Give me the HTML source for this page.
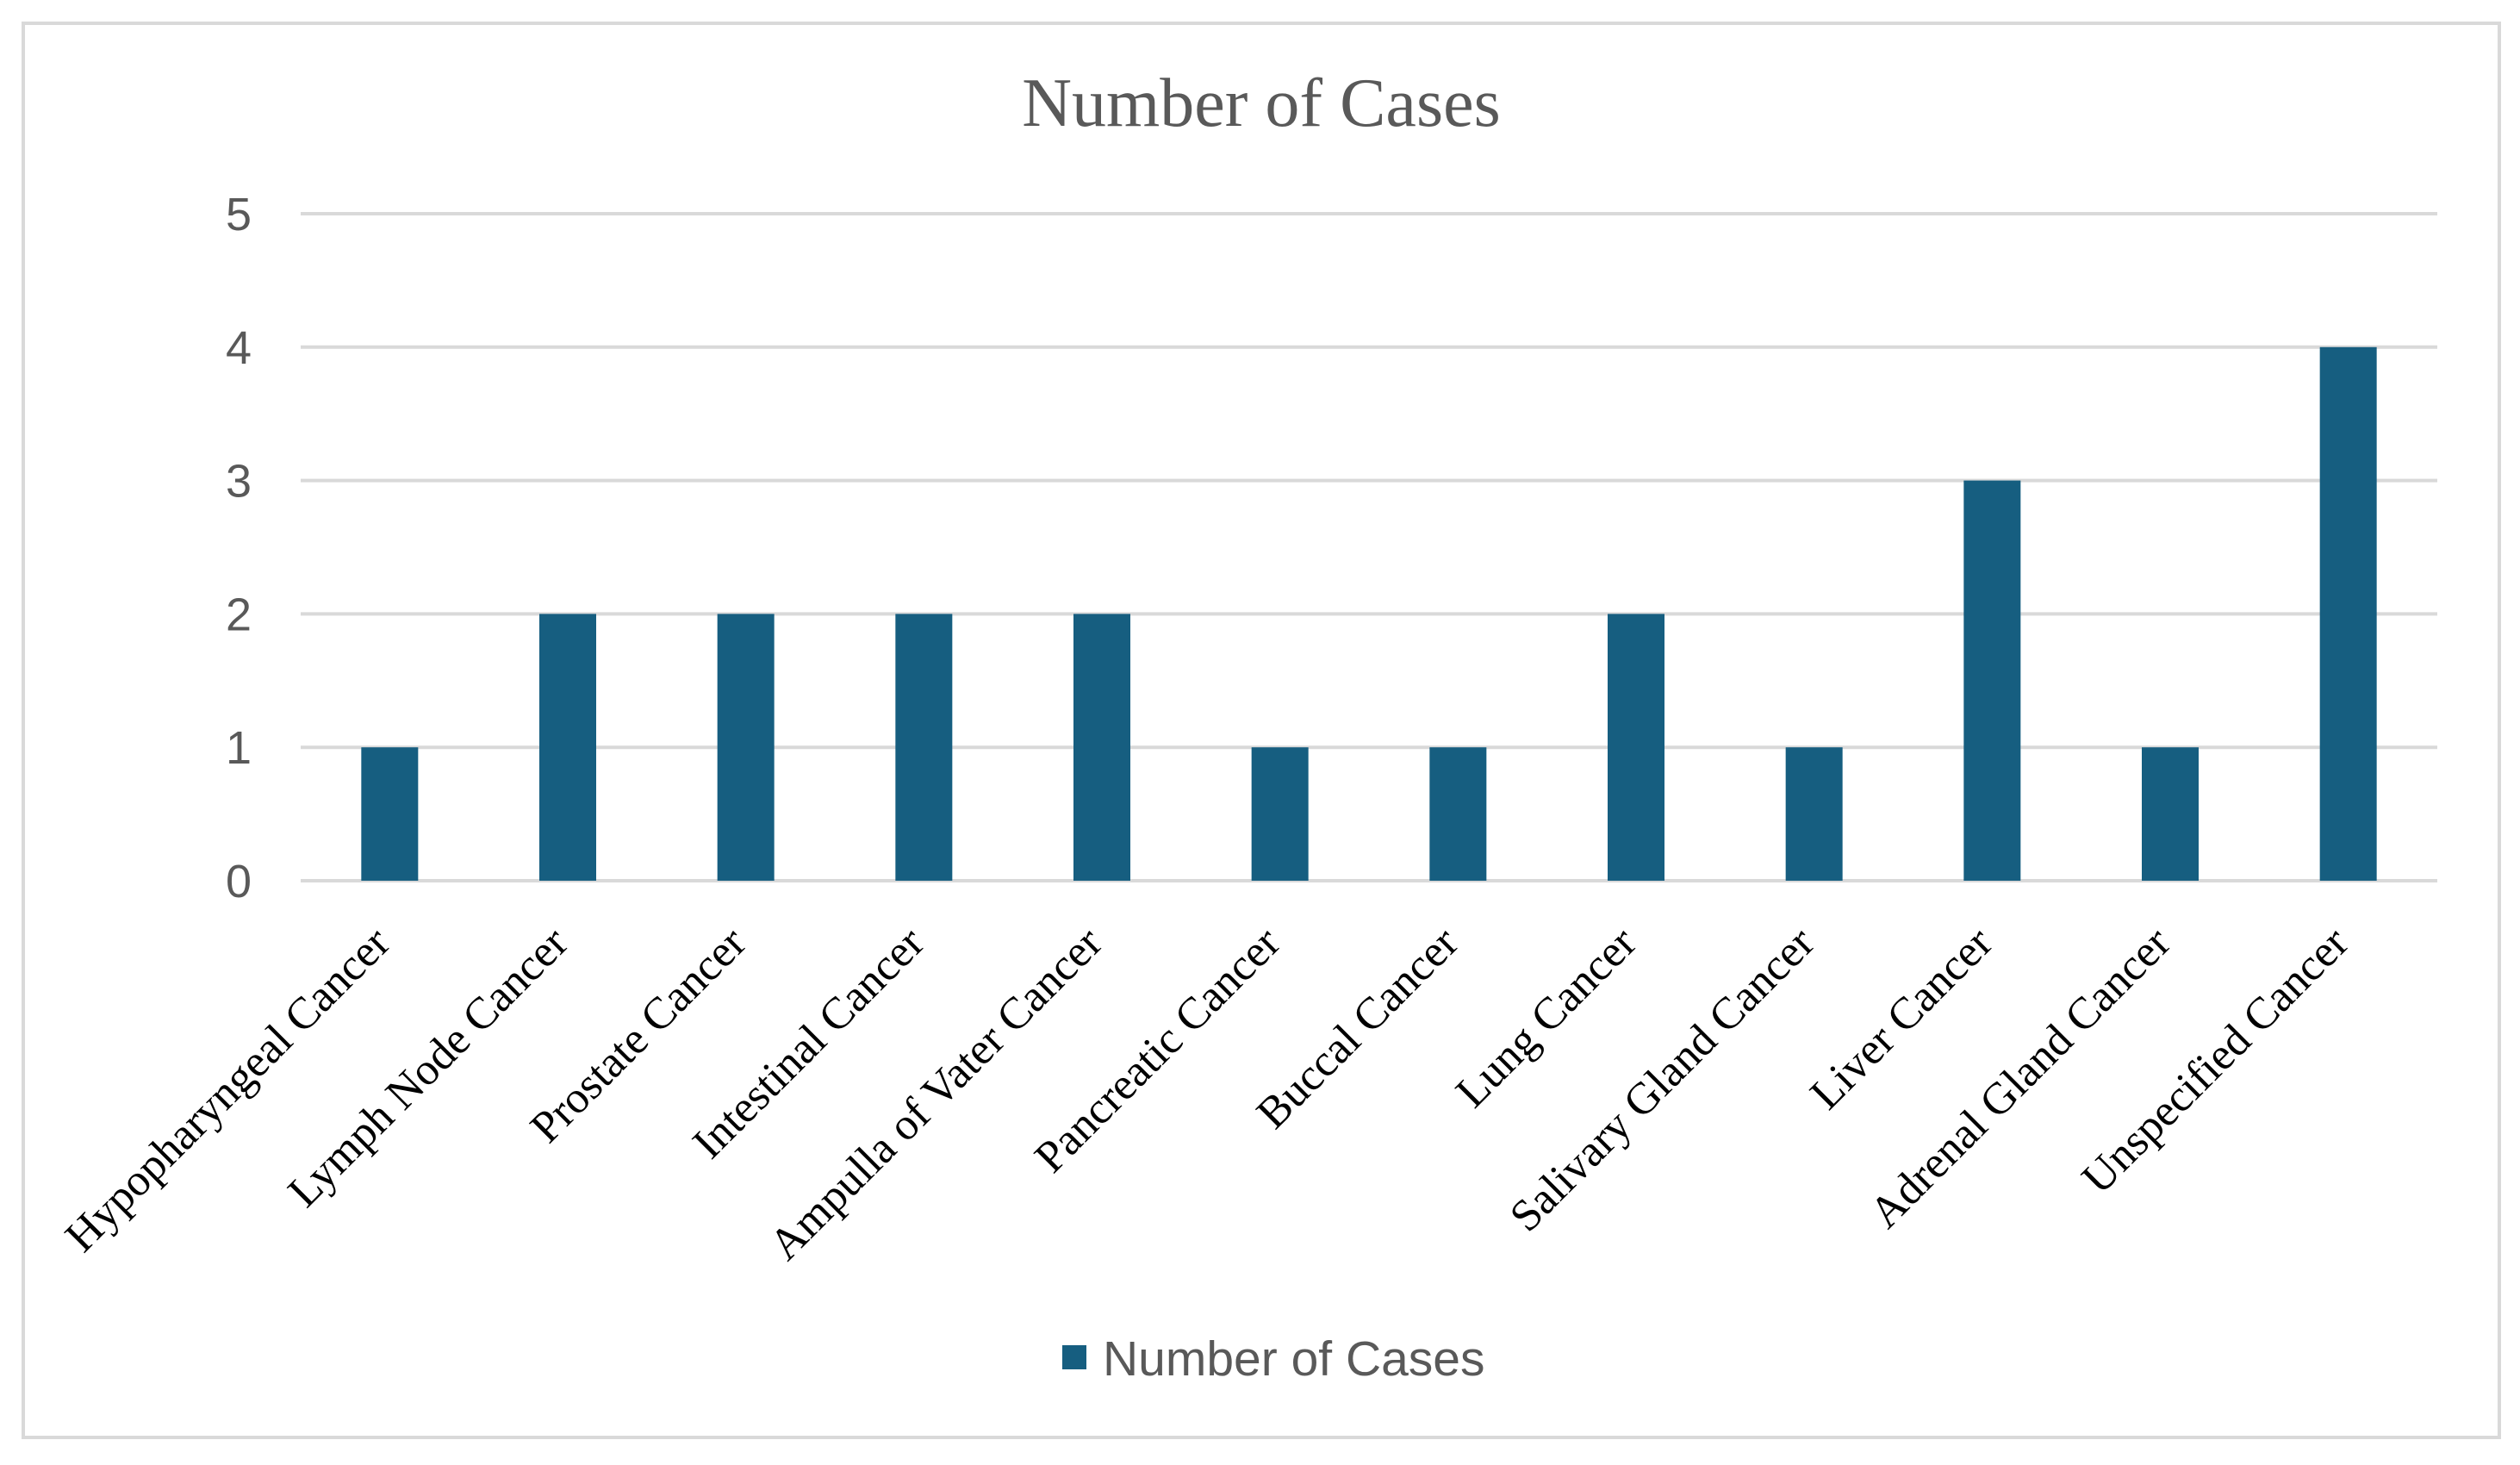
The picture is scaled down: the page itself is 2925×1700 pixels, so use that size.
<!DOCTYPE html>
<html><head><meta charset="utf-8"><style>
html,body{margin:0;padding:0;background:#fff;}
svg{display:block;}
</style></head><body>
<svg id="chart" width="2925" height="1700" xmlns="http://www.w3.org/2000/svg">
<rect x="27" y="27" width="2874" height="1641" fill="#fff" stroke="#d9d9d9" stroke-width="4"/>
<text x="1464" y="146" text-anchor="middle" font-family="'Liberation Serif', serif" font-size="80" fill="#595959">Number of Cases</text>
<g id="grid"></g><g id="bars"></g><g id="xlabels"></g>
<rect x="1233" y="1561" width="28" height="28" fill="#165e80"/>
<text x="1280" y="1596" font-family="'Liberation Sans', sans-serif" font-size="57" fill="#595959">Number of Cases</text>
</svg>
<script>
const categories = ["Hypopharyngeal Cancer","Lymph Node Cancer","Prostate Cancer","Intestinal Cancer","Ampulla of Vater Cancer","Pancreatic Cancer","Buccal Cancer","Lung Cancer","Salivary Gland Cancer","Liver Cancer","Adrenal Gland Cancer","Unspecified Cancer"];
const values = [1,2,2,2,2,1,1,2,1,3,1,4];
const yTicks = [0,1,2,3,4,5];

const NS="http://www.w3.org/2000/svg";
const L=349,R=2829,T=248,B=1022,yMax=5;
const y=v=>B-(v/yMax)*(B-T);
const band=(R-L)/categories.length;
const xc=i=>L+band*(i+0.5);
const bw=66;
const grid=document.getElementById('grid'),bars=document.getElementById('bars'),xl=document.getElementById('xlabels');
function mk(tag,attrs,parent){const e=document.createElementNS(NS,tag);for(const k in attrs)e.setAttribute(k,attrs[k]);parent.appendChild(e);return e;}
yTicks.forEach(t=>{
  const ln=mk('line',{x1:L,x2:R,y1:y(t),y2:y(t),stroke:'#d9d9d9','stroke-width':4},grid);
  
  
  const tx=mk('text',{x:277,y:y(t)+19,'text-anchor':'middle','font-family':"'Liberation Sans', sans-serif",'font-size':54,fill:'#595959'},grid);
  tx.textContent=t;
  
  
});
values.forEach((v,i)=>{
  const r=mk('rect',{x:xc(i)-bw/2,y:y(v),width:bw,height:B-y(v),fill:'#165e80'},bars);
  
  
});
categories.forEach((c,i)=>{
  const x=xc(i)+3,yy=B+75;
  const t=mk('text',{x:x,y:yy,'text-anchor':'end','font-family':"'Liberation Serif', serif",'font-size':52,fill:'#000',transform:`rotate(-45 ${x} ${yy})`},xl);
  t.textContent=c;
  
  
});
</script>
</body></html>
